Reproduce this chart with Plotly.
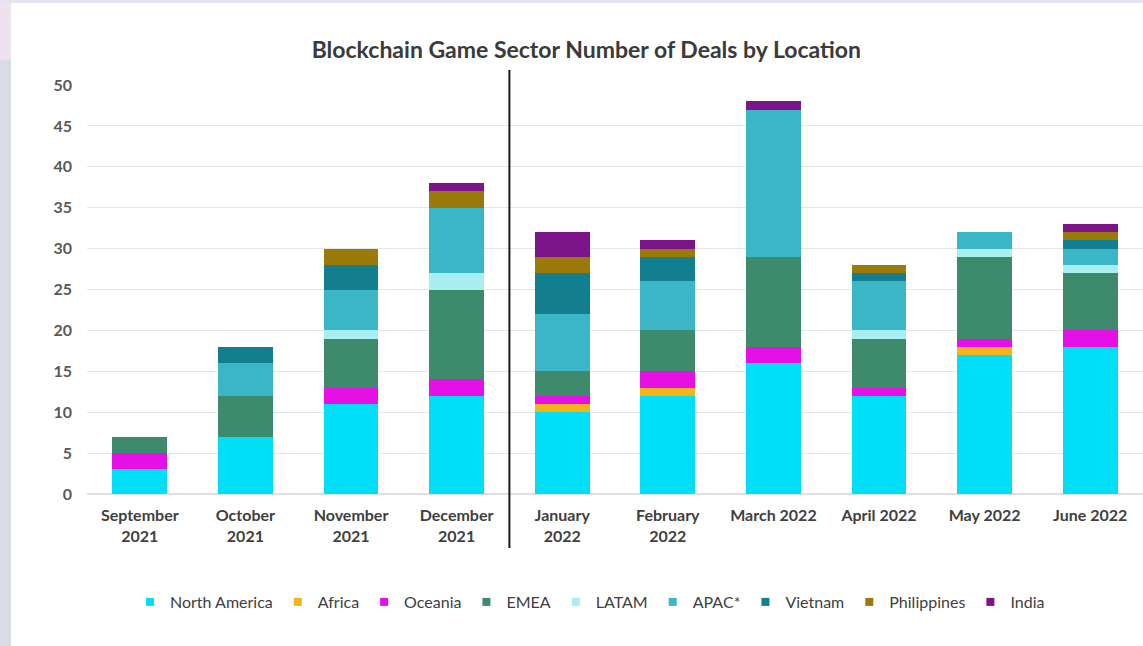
import plotly.graph_objects as go

months = ["September<br>2021", "October<br>2021", "November<br>2021", "December<br>2021",
          "January<br>2022", "February<br>2022", "March 2022", "April 2022", "May 2022", "June 2022"]

north_america = [3, 7, 11, 12, 10, 12, 16, 12, 17, 18]
africa        = [0, 0, 0, 0, 1, 1, 0, 0, 1, 0]
oceania       = [2, 0, 2, 2, 1, 2, 2, 1, 1, 2]
emea          = [2, 5, 6, 11, 3, 5, 11, 6, 10, 7]
latam         = [0, 0, 1, 2, 0, 0, 0, 1, 1, 1]
apac          = [0, 4, 5, 8, 7, 6, 18, 6, 2, 2]
vietnam       = [0, 2, 3, 0, 5, 3, 0, 1, 0, 1]
philippines   = [0, 0, 2, 2, 2, 1, 0, 1, 0, 1]
india         = [0, 0, 0, 1, 3, 1, 1, 0, 0, 1]

series = [
    ("North America", north_america, "#00DFF7"),
    ("Africa", africa, "#F2B51C"),
    ("Oceania", oceania, "#E60FE6"),
    ("EMEA", emea, "#3E8A6C"),
    ("LATAM", latam, "#A9EFF2"),
    ("APAC*", apac, "#3AB6C6"),
    ("Vietnam", vietnam, "#127E8E"),
    ("Philippines", philippines, "#9A7A08"),
    ("India", india, "#7B1489"),
]

y_ticks = list(range(0, 51, 5))

W, H = 1143, 646
ML, MR, MT, MB = 87, 0, 85, 152
pw, ph = W - ML - MR, H - MT - MB

fig = go.Figure()
for name, vals, color in series:
    fig.add_trace(go.Bar(
        x=months, y=vals, name=name, marker=dict(color=color, line=dict(width=0)),
        width=0.52, showlegend=False,
    ))
    fig.add_trace(go.Scatter(
        x=[None], y=[None], mode="markers", name=name,
        marker=dict(symbol="square", size=8, color=color),
    ))

n = len(months)
xmin, xmax = -0.5, n - 0.5
split = 3.5
fig.add_shape(type="line", xref="paper", yref="paper",
              x0=(split - xmin) / (xmax - xmin), x1=(split - xmin) / (xmax - xmin),
              y0=(MB - 548 + MT + ph - (H - MB)) / ph if False else -54 / ph,
              y1=1 + 15 / ph, line=dict(color="#1A1A1A", width=2))

# background edge strips of the screenshot
fig.add_shape(type="rect", xref="paper", yref="paper", layer="below",
              x0=-ML / pw, x1=(11 - ML) / pw, y0=-MB / ph, y1=1 + (MT - 60) / ph,
              fillcolor="#D9DCE2", line=dict(width=0))
fig.add_shape(type="rect", xref="paper", yref="paper", layer="below",
              x0=-ML / pw, x1=(11 - ML) / pw, y0=1 + (MT - 60) / ph, y1=1 + MT / ph,
              fillcolor="#EEE2EE", line=dict(width=0))
fig.add_shape(type="rect", xref="paper", yref="paper", layer="below",
              x0=-ML / pw, x1=1, y0=1 + (MT - 3) / ph, y1=1 + MT / ph,
              fillcolor="#E6E3F0", line=dict(width=0))

fig.update_layout(
    width=W, height=H,
    barmode="stack",
    paper_bgcolor="white", plot_bgcolor="white",
    margin=dict(l=ML, r=MR, t=MT, b=MB),
    font=dict(family="Lato, 'Open Sans', sans-serif", size=16, color="#404040"),
    title=dict(text="<b>Blockchain Game Sector Number of Deals by Location</b>",
               x=0.513, xanchor="center", y=1 - 50 / H, yanchor="middle",
               font=dict(size=23, color="#3A3A3A")),
    xaxis=dict(range=[xmin, xmax], showgrid=False, showline=False, ticks="",
               ticklabelstandoff=10,
               tickfont=dict(size=16, color="#404040", weight="bold")),
    yaxis=dict(range=[0, 50], tickvals=y_ticks, showgrid=True, gridcolor="#E6E6E6",
               gridwidth=1, zeroline=True, zerolinecolor="#E0E0E0", ticks="",
               ticklabelstandoff=14,
               tickfont=dict(size=16, color="#595959", weight="bold")),
    legend=dict(orientation="h", x=(590 - ML) / pw, xanchor="center", y=-108 / ph, yanchor="middle",
                font=dict(size=16, color="#404040"), itemwidth=30, traceorder="normal"),
)

fig.write_html("out.html")
